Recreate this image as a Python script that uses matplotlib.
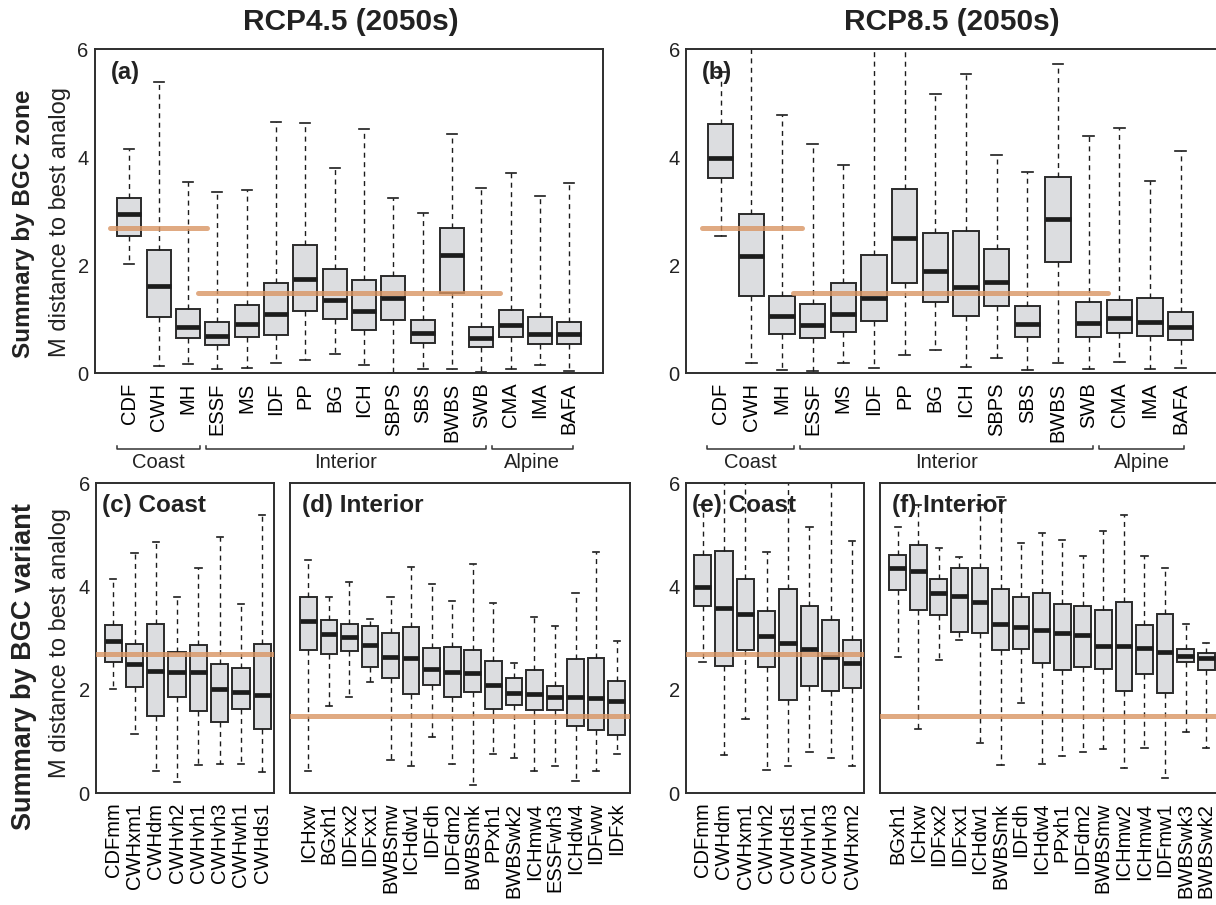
import matplotlib
matplotlib.use('Agg')
import matplotlib.pyplot as plt
import matplotlib.transforms as mtransforms

plt.rcParams['font.family'] = ['Liberation Sans', 'DejaVu Sans']

W, H = 1216, 905

# ---------------- data ----------------
zone_names = ['CDF', 'CWH', 'MH', 'ESSF', 'MS', 'IDF', 'PP', 'BG', 'ICH', 'SBPS',
              'SBS', 'BWBS', 'SWB', 'CMA', 'IMA', 'BAFA']
zone_groups = ['Coast', 'Interior', 'Alpine']

# (a) RCP4.5 by zone
a_hi  = [4.15, 5.38, 3.54, 3.35, 3.38, 4.65, 4.63, 3.80, 4.51, 3.24, 2.96, 4.43, 3.42, 3.70, 3.28, 3.52]
a_q3  = [3.25, 2.27, 1.18, 0.95, 1.26, 1.66, 2.37, 1.92, 1.72, 1.79, 0.99, 2.69, 0.86, 1.17, 1.04, 0.94]
a_med = [2.94, 1.62, 0.86, 0.69, 0.91, 1.09, 1.75, 1.36, 1.14, 1.38, 0.74, 2.18, 0.64, 0.88, 0.72, 0.72]
a_q1  = [2.54, 1.04, 0.64, 0.51, 0.66, 0.70, 1.15, 1.00, 0.80, 0.98, 0.55, 1.49, 0.49, 0.66, 0.54, 0.54]
a_lo  = [2.01, 0.13, 0.16, 0.07, 0.10, 0.19, 0.25, 0.36, 0.14, 0.00, 0.07, 0.08, 0.02, 0.08, 0.15, 0.04]

# (b) RCP8.5 by zone
b_hi  = [5.58, 6.50, 4.77, 4.25, 3.85, 6.50, 6.50, 5.16, 5.54, 4.04, 3.73, 5.72, 4.39, 4.54, 3.56, 4.11]
b_q3  = [4.61, 2.95, 1.43, 1.28, 1.67, 2.19, 3.41, 2.60, 2.63, 2.29, 1.25, 3.63, 1.31, 1.36, 1.39, 1.13]
b_med = [3.98, 2.17, 1.05, 0.89, 1.09, 1.38, 2.50, 1.88, 1.60, 1.69, 0.91, 2.86, 0.93, 1.01, 0.94, 0.86]
b_q1  = [3.62, 1.43, 0.73, 0.64, 0.76, 0.97, 1.67, 1.31, 1.06, 1.25, 0.67, 2.05, 0.66, 0.74, 0.68, 0.61]
b_lo  = [2.54, 0.18, 0.06, 0.03, 0.18, 0.09, 0.34, 0.43, 0.11, 0.27, 0.06, 0.19, 0.07, 0.20, 0.08, 0.10]

# (c) RCP4.5 coast variants
c_names = ['CDFmm', 'CWHxm1', 'CWHdm', 'CWHvh2', 'CWHvh1', 'CWHvh3', 'CWHwh1', 'CWHds1']
c_hi  = [4.15, 4.65, 4.86, 3.80, 4.36, 4.95, 3.65, 5.39]
c_q3  = [3.25, 2.89, 3.28, 2.73, 2.86, 2.49, 2.42, 2.88]
c_med = [2.94, 2.50, 2.37, 2.34, 2.34, 2.01, 1.95, 1.89]
c_q1  = [2.54, 2.06, 1.50, 1.86, 1.59, 1.38, 1.63, 1.23]
c_lo  = [2.01, 1.14, 0.42, 0.21, 0.54, 0.57, 0.56, 0.41]

# (d) RCP4.5 interior variants
d_names = ['ICHxw', 'BGxh1', 'IDFxx2', 'IDFxx1', 'BWBSmw', 'ICHdw1', 'IDFdh', 'IDFdm2',
           'BWBSmk', 'PPxh1', 'BWBSwk2', 'ICHmw4', 'ESSFwh3', 'ICHdw4', 'IDFww', 'IDFxk']
d_hi  = [4.51, 3.80, 4.08, 3.37, 3.80, 4.38, 4.04, 3.72, 4.43, 3.68, 2.52, 3.41, 3.24, 3.88, 4.66, 2.94]
d_q3  = [3.80, 3.35, 3.28, 3.24, 3.10, 3.21, 2.81, 2.83, 2.77, 2.55, 2.23, 2.39, 2.08, 2.59, 2.61, 2.17]
d_med = [3.32, 3.08, 3.01, 2.86, 2.64, 2.62, 2.40, 2.34, 2.32, 2.09, 1.94, 1.92, 1.86, 1.85, 1.83, 1.78]
d_q1  = [2.77, 2.70, 2.74, 2.43, 2.23, 1.92, 2.10, 1.86, 1.96, 1.62, 1.70, 1.60, 1.60, 1.30, 1.21, 1.12]
d_lo  = [0.43, 1.68, 1.85, 2.15, 0.63, 0.53, 1.09, 0.57, 0.15, 0.75, 0.68, 0.43, 0.53, 0.24, 0.43, 0.75]

# (e) RCP8.5 coast variants
e_names = ['CDFmm', 'CWHdm', 'CWHxm1', 'CWHvh2', 'CWHds1', 'CWHvh1', 'CWHvh3', 'CWHxm2']
e_hi  = [5.58, 6.50, 6.50, 4.66, 6.50, 5.15, 6.50, 4.88]
e_q3  = [4.61, 4.69, 4.14, 3.52, 3.95, 3.62, 3.35, 2.97]
e_med = [3.98, 3.59, 3.46, 3.03, 2.90, 2.78, 2.63, 2.51]
e_q1  = [3.62, 2.46, 2.77, 2.43, 1.80, 2.07, 1.97, 2.03]
e_lo  = [2.54, 0.74, 1.43, 0.45, 0.53, 0.80, 0.68, 0.53]

# (f) RCP8.5 interior variants
f_names = ['BGxh1', 'ICHxw', 'IDFxx2', 'IDFxx1', 'ICHdw1', 'BWBSmk', 'IDFdh', 'ICHdw4',
           'PPxh1', 'IDFdm2', 'BWBSmw', 'ICHmw2', 'ICHmw4', 'IDFmw1', 'BWBSwk3', 'BWBSwk2']
f_hi  = [5.15, 5.57, 4.75, 4.57, 5.57, 5.72, 4.84, 5.04, 4.90, 4.59, 5.08, 5.38, 4.59, 4.35, 3.28, 2.90]
f_q3  = [4.60, 4.80, 4.15, 4.35, 4.36, 3.95, 3.80, 3.88, 3.65, 3.61, 3.55, 3.70, 3.25, 3.46, 2.79, 2.71]
f_med = [4.35, 4.29, 3.88, 3.81, 3.70, 3.28, 3.22, 3.15, 3.10, 3.05, 2.85, 2.85, 2.80, 2.73, 2.65, 2.61]
f_q1  = [3.92, 3.55, 3.45, 3.11, 3.09, 2.77, 2.79, 2.52, 2.39, 2.44, 2.40, 1.97, 2.30, 1.94, 2.54, 2.38]
f_lo  = [2.63, 1.24, 2.57, 2.97, 0.96, 0.54, 1.74, 0.57, 0.72, 0.80, 0.85, 0.49, 0.88, 0.30, 1.19, 0.88]

# reference (best analog of current climate) lines
ref_coast = 2.69
ref_interior = 1.49

# ---------------- style ----------------
BOX_FACE = '#dcdde0'
BOX_EDGE = '#2b2b2b'
DARK = '#1c1c1c'
ORANGE = '#d99563'
TICK_FS = 14.5

fig = plt.figure(figsize=(W / 100, H / 100), dpi=100)


def px_axes(l, r, t, b):
    return fig.add_axes([l / W, 1 - b / H, (r - l) / W, (b - t) / H])


def draw_panel(ax, names, lo, q1, med, q3, hi, xlim, boxw, capw, ylabels=True):
    stats = []
    for i in range(len(names)):
        stats.append(dict(whislo=lo[i], q1=q1[i], med=med[i], q3=q3[i],
                          whishi=hi[i], fliers=[]))
    pos = list(range(1, len(names) + 1))
    ax.bxp(stats, positions=pos, widths=boxw, capwidths=capw, patch_artist=True,
           showfliers=False, manage_ticks=False,
           boxprops=dict(facecolor=BOX_FACE, edgecolor=BOX_EDGE, linewidth=1.4),
           medianprops=dict(color=DARK, linewidth=3.4, solid_capstyle='butt'),
           whiskerprops=dict(color=DARK, linewidth=1.0, linestyle=(0, (3.6, 3.2))),
           capprops=dict(color=DARK, linewidth=1.2))
    ax.set_xlim(*xlim)
    ax.set_ylim(0, 6)
    ax.set_yticks([0, 2, 4, 6])
    ax.set_xticks(pos)
    ax.set_xticklabels(names, rotation=90, fontsize=TICK_FS)
    ax.tick_params(axis='x', length=0, pad=7)
    ax.tick_params(axis='y', length=0, pad=4.5, labelsize=TICK_FS, colors='#222222')
    if not ylabels:
        ax.set_yticklabels([])
    for s in ax.spines.values():
        s.set_linewidth(1.4)
        s.set_color('#2e2e2e')


def place_label(ax, txt, dx_px, dy_px, fs):
    trans = ax.transAxes + mtransforms.ScaledTranslation(dx_px / 100, -dy_px / 100, fig.dpi_scale_trans)
    ax.text(0, 1, txt, transform=trans, fontsize=fs, fontweight='bold',
            ha='left', va='top', zorder=1, color='#222222')


def group_brackets(ax):
    tr = mtransforms.blended_transform_factory(ax.transData, ax.transAxes)
    spans = [(0.57, 3.40), (3.60, 13.15), (13.35, 16.12)]
    yb, yt, ytxt = -0.2346, -0.225, -0.275
    for (x0, x1), g in zip(spans, zone_groups):
        ax.plot([x0, x0, x1, x1], [yt, yb, yb, yt], transform=tr, color='#333333',
                lw=1.1, clip_on=False)
        ax.text((x0 + x1) / 2, ytxt, g, transform=tr, ha='center', va='center',
                fontsize=TICK_FS, color='#222222')


# ---------------- top row ----------------
ax_a = px_axes(95, 603, 49, 373)
draw_panel(ax_a, zone_names, a_lo, a_q1, a_med, a_q3, a_hi, (-0.17, 17.15), 0.82, 0.34)
ax_a.plot([0.34, 3.64], [ref_coast, ref_coast], color=ORANGE, alpha=0.8, lw=3.6,
          solid_capstyle='round', zorder=5)
ax_a.plot([3.34, 13.64], [ref_interior, ref_interior], color=ORANGE, alpha=0.8, lw=3.6,
          solid_capstyle='round', zorder=5)
place_label(ax_a, '(a)', 16, 12, 17)
group_brackets(ax_a)

ax_b = px_axes(686, 1219, 49, 373)
draw_panel(ax_b, zone_names, b_lo, b_q1, b_med, b_q3, b_hi, (-0.13, 17.25), 0.82, 0.34)
ax_b.spines['right'].set_visible(False)
ax_b.plot([0.38, 3.64], [ref_coast, ref_coast], color=ORANGE, alpha=0.8, lw=3.6,
          solid_capstyle='round', zorder=5)
ax_b.plot([3.36, 13.63], [ref_interior, ref_interior], color=ORANGE, alpha=0.8, lw=3.6,
          solid_capstyle='round', zorder=5)
place_label(ax_b, '(b)', 16, 12, 17)
group_brackets(ax_b)

# ---------------- bottom row ----------------
ax_c = px_axes(96, 274, 483, 793)
draw_panel(ax_c, c_names, c_lo, c_q1, c_med, c_q3, c_hi, (0.19, 8.55), 0.81, 0.30)
ax_c.axhline(ref_coast, color=ORANGE, alpha=0.8, lw=3.6, zorder=5)
place_label(ax_c, '(c) Coast', 6, 11, 17.5)

ax_d = px_axes(290, 630, 483, 793)
draw_panel(ax_d, d_names, d_lo, d_q1, d_med, d_q3, d_hi, (0.11, 16.65), 0.81, 0.30,
           ylabels=False)
ax_d.axhline(ref_interior, color=ORANGE, alpha=0.8, lw=3.6, zorder=5)
place_label(ax_d, '(d) Interior', 12, 11, 17.5)

ax_e = px_axes(686, 864, 483, 793)
draw_panel(ax_e, e_names, e_lo, e_q1, e_med, e_q3, e_hi, (0.22, 8.56), 0.81, 0.30)
ax_e.axhline(ref_coast, color=ORANGE, alpha=0.8, lw=3.6, zorder=5)
place_label(ax_e, '(e) Coast', 6, 11, 17.5)

ax_f = px_axes(880, 1221, 483, 793)
draw_panel(ax_f, f_names, f_lo, f_q1, f_med, f_q3, f_hi, (0.14, 16.72), 0.81, 0.30,
           ylabels=False)
ax_f.spines['right'].set_visible(False)
ax_f.axhline(ref_interior, color=ORANGE, alpha=0.8, lw=3.6, zorder=5)
place_label(ax_f, '(f) Interior', 12, 11, 17.5)

# ---------------- titles and row labels ----------------
fig.text(351 / W, 1 - 22 / H, 'RCP4.5 (2050s)', ha='center', va='center',
         fontsize=21.5, fontweight='bold', color='#222222')
fig.text(952 / W, 1 - 22 / H, 'RCP8.5 (2050s)', ha='center', va='center',
         fontsize=21.5, fontweight='bold', color='#222222')

fig.text(24 / W, 1 - 224 / H, 'Summary by BGC zone', rotation=90, ha='center', va='center',
         fontsize=17.5, fontweight='bold', color='#222222')
fig.text(60 / W, 1 - 222 / H, 'M distance to best analog', rotation=90, ha='center',
         va='center', fontsize=17, color='#222222')
fig.text(24 / W, 1 - 667 / H, 'Summary by BGC variant', rotation=90, ha='center', va='center',
         fontsize=19.5, fontweight='bold', color='#222222')
fig.text(60 / W, 1 - 643 / H, 'M distance to best analog', rotation=90, ha='center',
         va='center', fontsize=17, color='#222222')

fig.savefig('out.png', dpi=100)
